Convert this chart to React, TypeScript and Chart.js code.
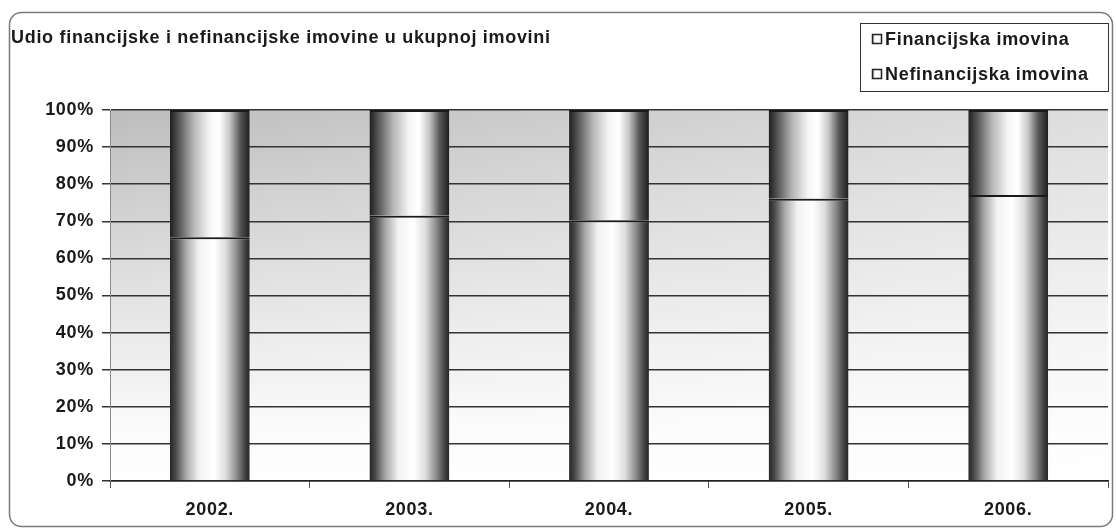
import React, { useEffect, useRef } from "react";
import { Chart, registerables } from "chart.js";

Chart.register(...registerables);

const chartTitle = "Udio financijske i nefinancijske imovine u ukupnoj imovini";
const categories = ["2002.", "2003.", "2004.", "2005.", "2006."];
const seriesNames = ["Financijska imovina", "Nefinancijska imovina"];
const financijska = [65.7, 71.5, 70.3, 76.1, 77.1];
const nefinancijska = [34.3, 28.5, 29.7, 23.9, 22.9];
const yMax = 100;
const yStep = 10;

const FONT = '"Liberation Sans", Arial, sans-serif';
const SPACING = "0.7px";
const FS = 18;
const BAR_FRACTION = 0.4;

const bottomStops: [number, string][] = [
  [0, "#262626"],
  [0.07, "#484848"],
  [0.2, "#a8a8a8"],
  [0.36, "#f2f2f2"],
  [0.55, "#ffffff"],
  [0.7, "#dedede"],
  [0.84, "#8a8a8a"],
  [0.95, "#3e3e3e"],
  [1, "#262626"],
];
const topStops: [number, string][] = [
  [0, "#1e1e1e"],
  [0.1, "#505050"],
  [0.3, "#b8b8b8"],
  [0.5, "#f6f6f6"],
  [0.62, "#ffffff"],
  [0.75, "#c6c6c6"],
  [0.88, "#565656"],
  [1, "#1e1e1e"],
];

function cylinder(stops: [number, string][]) {
  return (c: any) => {
    const chart = c.chart;
    const xs = chart.scales && chart.scales.x;
    if (c.type !== "data" || !xs || !chart.chartArea) return "#dddddd";
    const cx = xs.getPixelForValue(c.dataIndex);
    const w = (xs.width / categories.length) * BAR_FRACTION;
    const g = chart.ctx.createLinearGradient(cx - w / 2, 0, cx + w / 2, 0);
    stops.forEach(([o, col]) => g.addColorStop(o, col));
    return g;
  };
}

const decorPlugin = {
  id: "decor",
  beforeInit(chart: any) {
    (chart.ctx as any).letterSpacing = SPACING;
  },
  beforeDraw(chart: any) {
    const ctx = chart.ctx as CanvasRenderingContext2D;
    const { width, height, chartArea: a } = chart;
    (ctx as any).letterSpacing = SPACING;
    ctx.save();
    ctx.fillStyle = "#ffffff";
    ctx.fillRect(0, 0, width, height);
    // outer rounded frame
    ctx.strokeStyle = "#7a7a7a";
    ctx.lineWidth = 1.5;
    ctx.beginPath();
    (ctx as any).roundRect(9.5, 12.5, 1103, 514, 12);
    ctx.stroke();
    // plot background
    const gv = ctx.createLinearGradient(0, a.top, 0, a.bottom);
    gv.addColorStop(0, "#bdbdbd");
    gv.addColorStop(0.55, "#e6e6e6");
    gv.addColorStop(0.85, "#fafafa");
    gv.addColorStop(1, "#ffffff");
    ctx.fillStyle = gv;
    ctx.fillRect(a.left, a.top, a.right - a.left, a.bottom - a.top);
    const gh = ctx.createLinearGradient(a.left, 0, a.right, 0);
    gh.addColorStop(0, "rgba(255,255,255,0)");
    gh.addColorStop(1, "rgba(255,255,255,0.5)");
    ctx.fillStyle = gh;
    ctx.fillRect(a.left, a.top, a.right - a.left, a.bottom - a.top);
    ctx.restore();
  },
  afterDraw(chart: any) {
    const ctx = chart.ctx as CanvasRenderingContext2D;
    ctx.save();
    (ctx as any).letterSpacing = SPACING;
    ctx.fillStyle = "#1a1a1a";
    ctx.font = `bold ${FS}px ${FONT}`;
    ctx.textBaseline = "middle";
    ctx.textAlign = "left";
    ctx.fillText(chartTitle, 11, 38);
    // legend box
    ctx.strokeStyle = "#333333";
    ctx.lineWidth = 1;
    ctx.strokeRect(860.5, 23.5, 248, 68);
    const ys = [39, 74];
    chart.data.datasets.forEach((ds: any, i: number) => {
      const y = ys[i];
      const g = ctx.createLinearGradient(872, 0, 882, 0);
      g.addColorStop(0, "#9a9a9a");
      g.addColorStop(0.35, "#ffffff");
      g.addColorStop(1, "#f0f0f0");
      ctx.fillStyle = g;
      ctx.fillRect(872.5, y - 4.5, 9, 9);
      ctx.strokeStyle = "#222222";
      ctx.lineWidth = 1.5;
      ctx.strokeRect(872.5, y - 4.5, 9, 9);
      ctx.fillStyle = "#1a1a1a";
      ctx.fillText(ds.label, 885, y + 1);
    });
    ctx.restore();
  },
};

export default function App() {
  const ref = useRef<HTMLCanvasElement | null>(null);
  useEffect(() => {
    if (!ref.current) return;
    const chart = new Chart(ref.current, {
      type: "bar",
      data: {
        labels: categories,
        datasets: [
          {
            label: seriesNames[0],
            data: financijska,
            backgroundColor: cylinder(bottomStops),
            borderColor: "#1a1a1a",
            borderWidth: { top: 2, left: 0, right: 0, bottom: 0 },
            borderSkipped: false,
            categoryPercentage: 1,
            barPercentage: BAR_FRACTION,
          },
          {
            label: seriesNames[1],
            data: nefinancijska,
            backgroundColor: cylinder(topStops),
            borderColor: "#1a1a1a",
            borderWidth: { top: 2, left: 0, right: 0, bottom: 0 },
            borderSkipped: false,
            categoryPercentage: 1,
            barPercentage: BAR_FRACTION,
          },
        ],
      },
      options: {
        responsive: false,
        animation: false,
        devicePixelRatio: 1,
        layout: { padding: { top: 110, right: 8, bottom: 5, left: 0 } },
        plugins: {
          legend: { display: false },
          title: { display: false },
          tooltip: { enabled: false },
        },
        scales: {
          x: {
            stacked: true,
            offset: true,
            grid: {
              display: true,
              drawOnChartArea: false,
              drawTicks: true,
              tickLength: 7,
              color: "#555555",
              offset: true,
            },
            border: { display: true, color: "#222222", width: 1.5 },
            ticks: {
              font: { family: FONT, size: FS, weight: "bold" },
              color: "#1a1a1a",
              padding: 11,
              maxRotation: 0,
            },
            afterFit: (s: any) => {
              s.height = 45;
            },
          },
          y: {
            stacked: true,
            min: 0,
            max: yMax,
            grid: {
              color: "#333333",
              lineWidth: 1.5,
              drawTicks: true,
              tickLength: 8,
            },
            border: { display: true, color: "#8a8a8a", width: 1 },
            ticks: {
              stepSize: yStep,
              font: { family: FONT, size: FS, weight: "bold" },
              color: "#1a1a1a",
              padding: 8,
              callback: (v: any) => `${v}%`,
            },
            afterFit: (s: any) => {
              s.width = 110;
            },
          },
        },
      },
      plugins: [decorPlugin],
    } as any);
    return () => chart.destroy();
  }, []);
  return (
    <div style={{ position: "absolute", left: 0, top: 0, width: 1116, height: 531 }}>
      <canvas ref={ref} width={1116} height={531} style={{ display: "block" }} />
    </div>
  );
}
